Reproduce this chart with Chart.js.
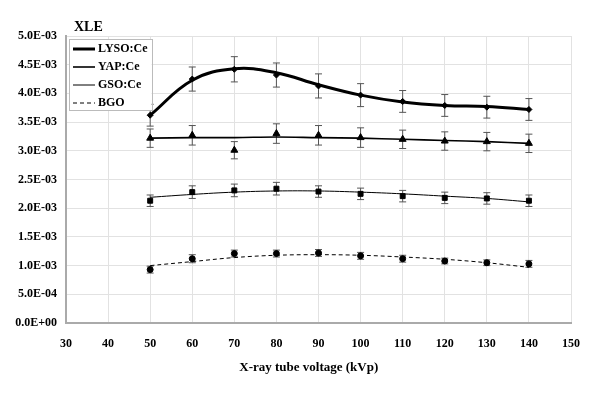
<!DOCTYPE html>
<html>
<head>
<meta charset="utf-8">
<script src="https://cdn.jsdelivr.net/npm/chart.js@4/dist/chart.umd.min.js"></script>
<style>
  html, body { margin: 0; padding: 0; background: #fff; }
  #wrap { width: 606px; height: 396px; }
</style>
</head>
<body>
<div id="wrap"><canvas id="chart" width="606" height="396"></canvas></div>
<script>
// X-ray tube voltage (kVp)
const kvp = [50, 60, 70, 80, 90, 100, 110, 120, 130, 140];
const xTicks = [30, 40, 50, 60, 70, 80, 90, 100, 110, 120, 130, 140, 150];

// measured XLE values + error bars
const lyso    = [3.62e-3, 4.25e-3, 4.42e-3, 4.32e-3, 4.13e-3, 3.97e-3, 3.86e-3, 3.79e-3, 3.76e-3, 3.72e-3];
const lysoErr = [0.19e-3, 0.21e-3, 0.22e-3, 0.21e-3, 0.21e-3, 0.20e-3, 0.19e-3, 0.19e-3, 0.19e-3, 0.19e-3];
const yap     = [3.22e-3, 3.27e-3, 3.01e-3, 3.30e-3, 3.27e-3, 3.23e-3, 3.20e-3, 3.17e-3, 3.16e-3, 3.13e-3];
const yapErr  = [0.16e-3, 0.17e-3, 0.15e-3, 0.17e-3, 0.17e-3, 0.17e-3, 0.16e-3, 0.16e-3, 0.16e-3, 0.16e-3];
const gso     = [2.13e-3, 2.28e-3, 2.31e-3, 2.34e-3, 2.29e-3, 2.25e-3, 2.21e-3, 2.18e-3, 2.17e-3, 2.13e-3];
const gsoErr  = [0.10e-3, 0.11e-3, 0.11e-3, 0.11e-3, 0.10e-3, 0.10e-3, 0.10e-3, 0.10e-3, 0.10e-3, 0.10e-3];
const bgo     = [0.93e-3, 1.12e-3, 1.21e-3, 1.21e-3, 1.22e-3, 1.17e-3, 1.12e-3, 1.08e-3, 1.05e-3, 1.03e-3];
const bgoErr  = [0.06e-3, 0.07e-3, 0.06e-3, 0.06e-3, 0.06e-3, 0.06e-3, 0.06e-3, 0.05e-3, 0.05e-3, 0.06e-3];

// trend lines
const lysoFit = [3.62e-3, 4.23e-3, 4.43e-3, 4.36e-3, 4.15e-3, 3.97e-3, 3.85e-3, 3.79e-3, 3.77e-3, 3.72e-3];
const yapFit  = [3.22e-3, 3.23e-3, 3.23e-3, 3.24e-3, 3.23e-3, 3.22e-3, 3.20e-3, 3.18e-3, 3.16e-3, 3.13e-3];
const gsoFit  = [2.19e-3, 2.24e-3, 2.28e-3, 2.30e-3, 2.30e-3, 2.28e-3, 2.25e-3, 2.21e-3, 2.17e-3, 2.11e-3];
const bgoFit  = [1.00e-3, 1.07e-3, 1.14e-3, 1.18e-3, 1.19e-3, 1.18e-3, 1.15e-3, 1.11e-3, 1.05e-3, 0.97e-3];

const FONT = "'Liberation Serif', 'Times New Roman', serif";

function pts(ys) {
  return kvp.map((x, i) => ({ x: x, y: ys[i] }));
}

// 0.0E+00 style labels
function sci(v) {
  if (Math.abs(v) < 1e-12) return '0.0E+00';
  const parts = v.toExponential(1).split('e');
  const n = parseInt(parts[1], 10);
  return parts[0] + 'E' + (n < 0 ? '-' : '+') + String(Math.abs(n)).padStart(2, '0');
}

// little line sample used as legend symbol (so dashes show)
function sample(width, dash) {
  const c = document.createElement('canvas');
  c.width = 50; c.height = 6;
  const g = c.getContext('2d');
  g.strokeStyle = '#000';
  g.lineWidth = width;
  g.setLineDash(dash || []);
  g.beginPath();
  g.moveTo(16, 3); g.lineTo(38, 3);
  g.stroke();
  return c;
}

function fitSet(label, ys, width, dash) {
  return {
    type: 'line', label: label, data: pts(ys),
    borderColor: '#000', backgroundColor: '#000', borderWidth: width,
    borderDash: dash || [], pointRadius: 0, pointStyle: sample(width, dash),
    tension: 0.4, fill: false
  };
}

function markSet(label, ys, errs, style, r) {
  return {
    type: 'line', label: label, data: pts(ys), errors: errs, showLine: false,
    pointStyle: style, pointRadius: r, pointHoverRadius: r,
    pointBackgroundColor: '#000', pointBorderColor: '#000', pointBorderWidth: 1
  };
}

// error bars, drawn under the markers
const errorBars = {
  id: 'errorBars',
  beforeDatasetsDraw(chart) {
    const ctx = chart.ctx;
    const xs = chart.scales.x, ys = chart.scales.y;
    ctx.save();
    ctx.strokeStyle = '#555';
    ctx.lineWidth = 1;
    chart.data.datasets.forEach(ds => {
      if (!ds.errors) return;
      ds.data.forEach((p, i) => {
        const px = xs.getPixelForValue(p.x);
        const top = ys.getPixelForValue(p.y + ds.errors[i]);
        const bot = ys.getPixelForValue(p.y - ds.errors[i]);
        ctx.beginPath();
        ctx.moveTo(px, top); ctx.lineTo(px, bot);
        ctx.moveTo(px - 3.5, top); ctx.lineTo(px + 3.5, top);
        ctx.moveTo(px - 3.5, bot); ctx.lineTo(px + 3.5, bot);
        ctx.stroke();
      });
    });
    ctx.restore();
  }
};

// legend inside the plot (top-left), framed, plus the "XLE" label
const extras = {
  id: 'extras',
  afterUpdate(chart) {
    const lg = chart.legend;
    if (!lg) return;
    const dy = chart.chartArea.top + 1 - lg.top;
    lg.top += dy;
    lg.bottom += dy;
    (lg.legendHitBoxes || []).forEach(b => { b.top += dy; });
  },
  afterDraw(chart) {
    const ctx = chart.ctx;
    const lg = chart.legend;
    if (lg && lg.legendHitBoxes && lg.legendHitBoxes.length) {
      const hb = lg.legendHitBoxes;
      let right = 0;
      hb.forEach(b => { right = Math.max(right, b.left + b.width); });
      const l = hb[0].left - 3, t = hb[0].top - 4;
      const last = hb[hb.length - 1];
      const b = last.top + last.height + 1;
      ctx.save();
      ctx.fillStyle = '#fff';
      ctx.fillRect(l, t, right + 4 - l, b - t);
      ctx.strokeStyle = '#bbb';
      ctx.lineWidth = 1;
      ctx.strokeRect(Math.round(l) + 0.5, Math.round(t) + 0.5, Math.round(right + 4 - l), Math.round(b - t));
      ctx.restore();
      lg.draw();
    }
    ctx.save();
    ctx.fillStyle = '#000';
    ctx.font = 'bold 14px ' + FONT;
    ctx.textAlign = 'left';
    ctx.textBaseline = 'middle';
    ctx.fillText('XLE', 74, 27);
    ctx.restore();
  }
};

const ctx = document.getElementById('chart').getContext('2d');
new Chart(ctx, {
  data: {
    datasets: [
      fitSet('LYSO:Ce', lysoFit, 3),
      fitSet('YAP:Ce', yapFit, 1.6),
      fitSet('GSO:Ce', gsoFit, 1),
      fitSet('BGO', bgoFit, 1, [4, 3]),
      markSet('LYSO:Ce data', lyso, lysoErr, 'rectRot', 3),
      markSet('YAP:Ce data', yap, yapErr, 'triangle', 4),
      markSet('GSO:Ce data', gso, gsoErr, 'rect', 3.5),
      markSet('BGO data', bgo, bgoErr, 'circle', 3)
    ]
  },
  options: {
    responsive: false,
    animation: false,
    layout: { padding: { left: 0, right: 35, top: 36, bottom: 0 } },
    plugins: {
      tooltip: { enabled: false },
      legend: {
        position: 'chartArea',
        align: 'start',
        labels: {
          usePointStyle: true,
          pointStyleWidth: 20,
          padding: 6,
          color: '#000',
          font: { family: FONT, size: 12, weight: 'bold' },
          filter: item => !item.text.endsWith('data')
        }
      }
    },
    scales: {
      x: {
        type: 'linear', min: 30, max: 150,
        afterFit: s => { s.height = 73; },
        afterBuildTicks: s => { s.ticks = xTicks.map(v => ({ value: v })); },
        grid: { color: '#e2e2e2', drawTicks: false },
        border: { color: '#aaa', width: 2 },
        ticks: { padding: 14, color: '#000', font: { family: FONT, size: 12, weight: 'bold' } },
        title: {
          display: true, text: 'X-ray tube voltage (kVp)\u00a0\u00a0\u00a0\u00a0\u00a0\u00a0', color: '#000',
          font: { family: FONT, size: 13, weight: 'bold' },
          padding: { top: 0, bottom: 21 }
        }
      },
      y: {
        type: 'linear', min: 0, max: 0.005,
        afterFit: s => { s.width = 66; },
        grid: { color: '#e2e2e2', drawTicks: false },
        border: { color: '#aaa', width: 2 },
        ticks: {
          stepSize: 0.0005, padding: 9, color: '#000',
          font: { family: FONT, size: 12, weight: 'bold' },
          callback: v => sci(v)
        }
      }
    }
  },
  plugins: [errorBars, extras]
});
</script>
</body>
</html>
